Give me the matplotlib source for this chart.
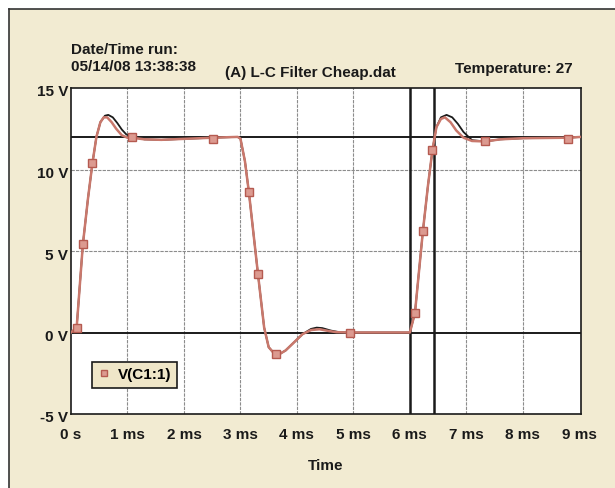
import matplotlib
matplotlib.use("Agg")
import matplotlib.pyplot as plt
import matplotlib.transforms as mtransforms
from matplotlib.lines import Line2D

plt.rcParams['font.family'] = ['Liberation Sans', 'DejaVu Sans']

# trace (time in ms, volts)
t_black = [0, 0.1, 0.21, 0.3, 0.38, 0.45, 0.52, 0.6, 0.66, 0.74, 0.82, 0.9, 0.98, 1.08,
           1.3, 1.6, 2.0, 2.5, 2.95, 3.0, 3.08, 3.15, 3.31, 3.42, 3.5, 3.6, 3.68, 3.8,
           3.95, 4.1, 4.25, 4.35, 4.45, 4.6, 4.75, 4.94, 5.5, 6.0, 6.09, 6.23, 6.32, 6.4,
           6.47, 6.55, 6.65, 6.75, 6.85, 6.95, 7.1, 7.33, 7.6, 8.0, 8.8, 9.03]
v_black = [0, 0.3, 5.4, 8.2, 10.4, 12.0, 12.9, 13.3, 13.35, 13.2, 12.85, 12.45, 12.15, 12.0,
           11.85, 11.82, 11.88, 11.95, 12.0, 11.9, 10.5, 8.6, 3.6, 0.3, -0.9, -1.3, -1.35, -1.1,
           -0.6, -0.1, 0.22, 0.3, 0.27, 0.12, 0.02, 0.0, 0.0, 0.0, 1.2, 6.2, 9.0, 11.2,
           12.6, 13.2, 13.35, 13.2, 12.8, 12.3, 11.8, 11.72, 11.85, 11.92, 11.95, 12.0]

t_red = [0, 0.1, 0.21, 0.3, 0.38, 0.45, 0.52, 0.58, 0.64, 0.72, 0.8, 0.9, 1.0, 1.08,
         1.3, 1.6, 2.0, 2.5, 2.95, 3.0, 3.08, 3.15, 3.31, 3.42, 3.5, 3.6, 3.68, 3.8,
         3.95, 4.1, 4.25, 4.4, 4.55, 4.7, 4.94, 5.5, 6.0, 6.09, 6.23, 6.32, 6.4,
         6.47, 6.55, 6.62, 6.72, 6.82, 6.95, 7.1, 7.33, 7.6, 8.0, 8.8, 9.03]
v_red = [0, 0.3, 5.4, 8.2, 10.4, 12.0, 12.9, 13.2, 13.2, 12.9, 12.5, 12.1, 11.95, 11.95,
         11.85, 11.82, 11.88, 11.95, 12.0, 11.9, 10.5, 8.6, 3.6, 0.3, -0.9, -1.3, -1.35, -1.1,
         -0.6, -0.1, 0.15, 0.2, 0.1, 0.02, 0.0, 0.0, 0.0, 1.2, 6.2, 9.0, 11.2,
         12.6, 13.1, 13.2, 12.9, 12.4, 11.95, 11.75, 11.72, 11.85, 11.92, 11.95, 12.0]

# square markers on V(C1:1)
t_mark = [0.1, 0.21, 0.38, 1.08, 2.52, 3.15, 3.31, 3.63, 4.94, 6.09, 6.23, 6.4, 7.33, 8.8]
v_mark = [0.3, 5.4, 10.4, 12.0, 11.9, 8.6, 3.6, -1.3, 0.0, 1.2, 6.2, 11.2, 11.75, 11.9]

x_ticks = [0, 1, 2, 3, 4, 5, 6, 7, 8, 9]
x_labels = ["0 s", "1 ms", "2 ms", "3 ms", "4 ms", "5 ms", "6 ms", "7 ms", "8 ms", "9 ms"]
y_ticks = [-5, 0, 5, 10, 15]
y_labels = ["-5 V", "0 V", "5 V", "10 V", "15 V"]
cursor_t = [6.0, 6.43]
cursor_v = [0, 12]

cream = "#f2ebd2"
red = "#c9786c"
ink = "#1a1a1a"
fs = 11

fig = plt.figure(figsize=(6.15, 4.88), dpi=100, facecolor="white")
# cream panel with dark frame on top and left
fig.patches.append(plt.Rectangle((9/615, 0), 1 - 9/615, 1 - 9/488, transform=fig.transFigure,
                                 facecolor=cream, edgecolor="none", zorder=-5))
fig.lines.append(Line2D([9/615, 1], [1 - 9/488, 1 - 9/488], transform=fig.transFigure,
                        color="#333333", lw=1.2, zorder=-4))
fig.lines.append(Line2D([9/615, 9/615], [0, 1 - 9/488], transform=fig.transFigure,
                        color="#333333", lw=1.2, zorder=-4))

ax = fig.add_axes([71/615, 1 - 414/488, 510/615, 326/488])
ax.set_zorder(1)
ax.set_facecolor("white")
ax.set_xlim(0, 9.03)
ax.set_ylim(-5, 15)

for x in range(1, 9):
    ax.axvline(x, color="#8c8c8c", lw=0.8, ls=(0, (3, 1)), zorder=1)
for y in [5, 10]:
    ax.axhline(y, color="#8c8c8c", lw=0.8, ls=(0, (3, 1)), zorder=1)
for y in cursor_v:
    ax.axhline(y, color=ink, lw=1.4, zorder=2)
for x in cursor_t:
    ax.axvline(x, color=ink, lw=1.8, zorder=2)

ax.plot(t_black, v_black, color=ink, lw=1.3, zorder=3)
ax.plot(t_red, v_red, color=red, lw=1.8, zorder=4)
ax.plot(t_mark, v_mark, ls="none", marker="s", ms=5.5, mfc="#dc9a90", mec="#b55a50",
        mew=1.0, zorder=5)

ax.set_xticks(x_ticks)
ax.set_xticklabels(x_labels)
ax.set_yticks(y_ticks)
ax.set_yticklabels(y_labels)
ax.tick_params(length=0, labelsize=fs, colors=ink)
ax.tick_params(axis="x", pad=10)
ax.tick_params(axis="y", pad=2)
shift = mtransforms.ScaledTranslation(0, -3/100, fig.dpi_scale_trans)
for lab in ax.get_yticklabels():
    lab.set_transform(lab.get_transform() + shift)
for lab in ax.get_xticklabels() + ax.get_yticklabels():
    lab.set_fontweight("bold")
for s in ax.spines.values():
    s.set_color(ink)
    s.set_linewidth(1.2)

ax.set_xlabel("Time", fontsize=fs, fontweight="bold", labelpad=12, color=ink)

handle = Line2D([], [], ls="none", marker="s", ms=5, mfc="#dc9a90", mec="#b55a50", mew=1.0)
leg = ax.legend([handle], ["V(C1:1)"], loc="lower left", bbox_to_anchor=(0.041, 0.08),
                frameon=True, fancybox=False, handlelength=0.8,
                handletextpad=0.5, borderpad=0.4, borderaxespad=0,
                prop={"weight": "bold", "size": fs})
leg.get_frame().set_facecolor("#efe6c8")
leg.get_frame().set_edgecolor(ink)
leg.get_frame().set_linewidth(1.2)
leg.get_frame().set_alpha(1)

fig.text(71/615, 1 - 50/488, "Date/Time run:", fontsize=fs, fontweight="bold",
         ha="left", va="center", color=ink)
fig.text(71/615, 1 - 67/488, "05/14/08 13:38:38", fontsize=fs, fontweight="bold",
         ha="left", va="center", color=ink)
fig.text(310/615, 1 - 73/488, "(A) L-C Filter Cheap.dat", fontsize=fs, fontweight="bold",
         ha="center", va="center", color=ink)
fig.text(573/615, 1 - 69/488, "Temperature: 27", fontsize=fs, fontweight="bold",
         ha="right", va="center", color=ink)

fig.savefig("out.png", dpi=100, facecolor=fig.get_facecolor())
